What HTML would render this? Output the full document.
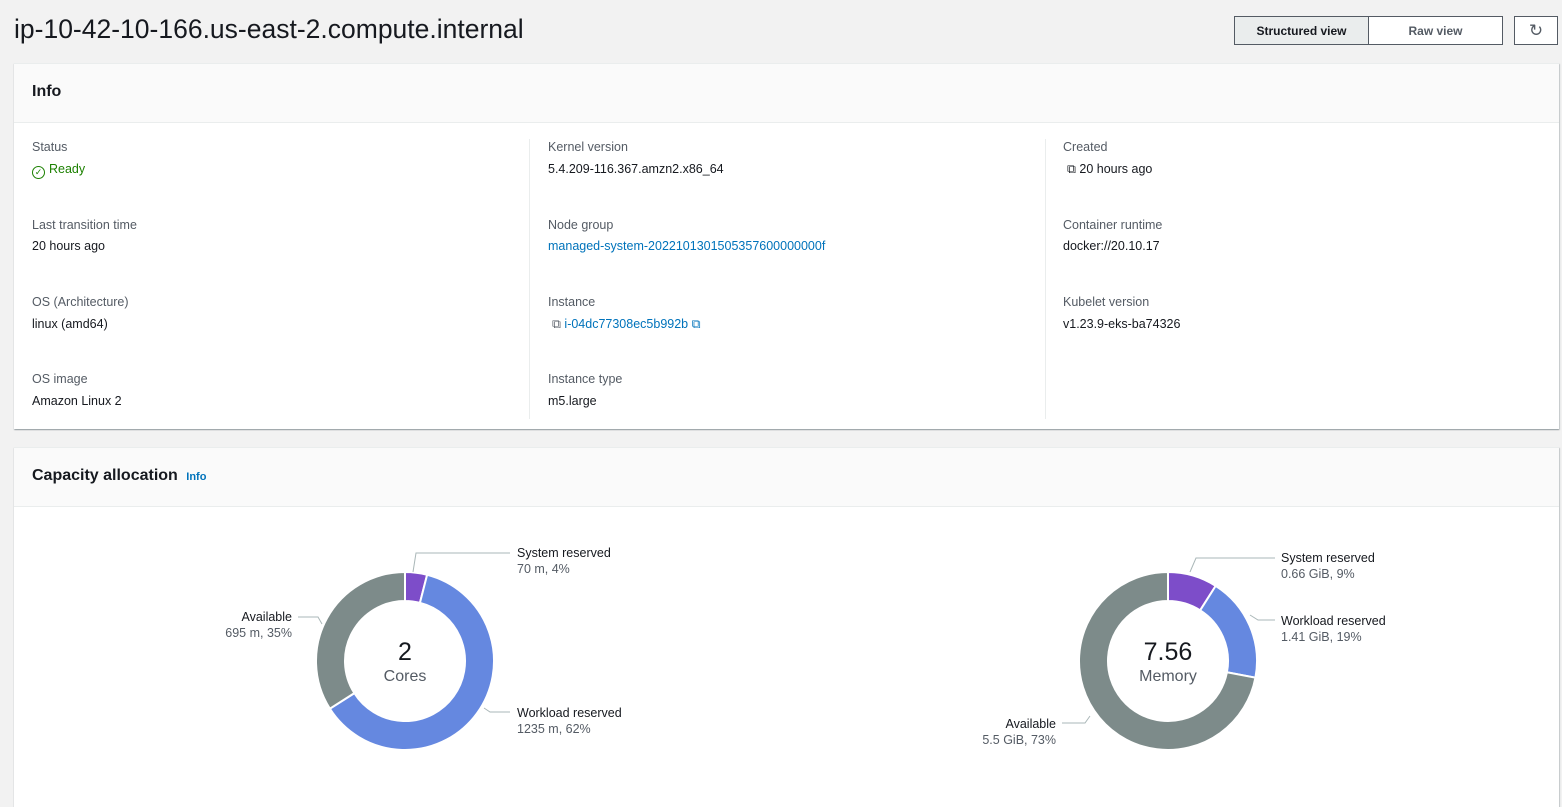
<!DOCTYPE html>
<html><head><meta charset="utf-8"><style>
*{box-sizing:border-box;margin:0;padding:0}
body{width:1562px;height:792px;overflow:hidden;background:#f2f2f2;font-family:"Liberation Sans",sans-serif;color:#16191f;position:relative}
.abs{position:absolute;white-space:nowrap}
h1{position:absolute;left:14px;top:14px;font-size:26.5px;font-weight:normal;color:#16191f}
.btns{position:absolute;left:1234px;top:16px;height:29px;display:flex}
.btns div{border:1px solid #545b64;font-size:12px;font-weight:bold;color:#545b64;display:flex;align-items:center;justify-content:center}
.card{position:absolute;left:14px;width:1545px;background:#fff;box-shadow:0 1px 1px rgba(0,28,36,.3),1px 1px 1px rgba(0,28,36,.15);border-top:1px solid #eaeded}
.hdr{background:#fafafa;border-bottom:1px solid #eaeded;height:59px;position:relative}
.hdr b{position:absolute;left:18px;top:19px;font-size:16px}
.lab{font-size:12.5px;color:#545b64}
.val{font-size:12.5px;color:#16191f}
.lnk{font-size:12.5px;color:#0073bb}
.sep{position:absolute;width:1px;background:#eaeded}
.dl{font-size:12.5px;color:#16191f;line-height:16px}
.dl span{color:#545b64}
</style></head><body>
<h1>ip-10-42-10-166.us-east-2.compute.internal</h1>
<div class="btns"><div style="width:135px;background:#eaeded;color:#16191f">Structured view</div><div style="width:134px;background:#fff;border-left:none">Raw view</div></div>
<div class="abs" style="left:1514px;top:16px;width:44px;height:29px;border:1px solid #545b64;background:#fff;font-size:17px;color:#545b64;text-align:center;line-height:27px">↻</div>

<div class="card" style="top:63px;height:366px">
<div class="hdr"><b>Info</b></div>
<div class="sep" style="left:515px;top:75px;height:280px"></div>
<div class="sep" style="left:1031px;top:75px;height:280px"></div>
</div>
<div class="abs lab" style="left:32px;top:140px">Status</div>
<div class="abs" style="left:32px;top:162px;font-size:12.5px;color:#1d8102"><span style="display:inline-block;width:13px;height:13px;border:1.5px solid #1d8102;border-radius:50%;font-size:9px;text-align:center;line-height:10px;vertical-align:-2px;margin-right:4px">✓</span>Ready</div>
<div class="abs lab" style="left:548px;top:140px">Kernel version</div>
<div class="abs val" style="left:548px;top:162px">5.4.209-116.367.amzn2.x86_64</div>
<div class="abs lab" style="left:1063px;top:140px">Created</div>
<div class="abs val" style="left:1067px;top:162px">⧉ 20 hours ago</div>
<div class="abs lab" style="left:32px;top:218px">Last transition time</div>
<div class="abs val" style="left:32px;top:239px">20 hours ago</div>
<div class="abs lab" style="left:548px;top:218px">Node group</div>
<div class="abs lnk" style="left:548px;top:239px">managed-system-2022101301505357600000000f</div>
<div class="abs lab" style="left:1063px;top:218px">Container runtime</div>
<div class="abs val" style="left:1063px;top:239px">docker://20.10.17</div>
<div class="abs lab" style="left:32px;top:295px">OS (Architecture)</div>
<div class="abs val" style="left:32px;top:317px">linux (amd64)</div>
<div class="abs lab" style="left:548px;top:295px">Instance</div>
<div class="abs lnk" style="left:552px;top:317px"><span style="color:#545b64">⧉</span> i-04dc77308ec5b992b ⧉</div>
<div class="abs lab" style="left:1063px;top:295px">Kubelet version</div>
<div class="abs val" style="left:1063px;top:317px">v1.23.9-eks-ba74326</div>
<div class="abs lab" style="left:32px;top:372px">OS image</div>
<div class="abs val" style="left:32px;top:394px">Amazon Linux 2</div>
<div class="abs lab" style="left:548px;top:372px">Instance type</div>
<div class="abs val" style="left:548px;top:394px">m5.large</div>

<div class="card" style="top:447px;height:360px">
<div class="hdr"><b>Capacity allocation <span style="font-size:11px;color:#0073bb;margin-left:4px">Info</span></b></div>
</div>

<svg class="abs" style="left:0;top:0" width="1562" height="792" id="s"></svg>
<div class="abs" style="left:365px;top:638px;width:80px;text-align:center;font-size:25px">2</div>
<div class="abs" style="left:365px;top:668px;width:80px;text-align:center;font-size:16px;color:#545b64">Cores</div>
<div class="abs" style="left:1118px;top:638px;width:100px;text-align:center;font-size:25px">7.56</div>
<div class="abs" style="left:1118px;top:668px;width:100px;text-align:center;font-size:16px;color:#545b64">Memory</div>

<div class="abs dl" style="left:517px;top:545px">System reserved<br><span>70 m, 4%</span></div>
<div class="abs dl" style="left:517px;top:705px">Workload reserved<br><span>1235 m, 62%</span></div>
<div class="abs dl" style="right:1270px;top:609px;text-align:right">Available<br><span>695 m, 35%</span></div>
<div class="abs dl" style="left:1281px;top:550px">System reserved<br><span>0.66 GiB, 9%</span></div>
<div class="abs dl" style="left:1281px;top:613px">Workload reserved<br><span>1.41 GiB, 19%</span></div>
<div class="abs dl" style="right:506px;top:716px;text-align:right">Available<br><span>5.5 GiB, 73%</span></div>

<script>
var s=document.getElementById('s'),h='';
function arc(cx,cy,a0,a1,c){var R=89,r=60;function p(rad,a){a=(a-90)*Math.PI/180;return (cx+rad*Math.cos(a)).toFixed(2)+' '+(cy+rad*Math.sin(a)).toFixed(2)}
var l=(a1-a0)>180?1:0;
h+='<path d="M'+p(R,a0)+' A'+R+' '+R+' 0 '+l+' 1 '+p(R,a1)+' L'+p(r,a1)+' A'+r+' '+r+' 0 '+l+' 0 '+p(r,a0)+'Z" fill="'+c+'" stroke="#fff" stroke-width="2"/>';}
var P='#7d4dc9',B='#6588e0',G='#7d8b8a';
arc(405,661,0,14.4,P);arc(405,661,14.4,237.6,B);arc(405,661,237.6,360,G);
arc(1168,661,0,32.4,P);arc(1168,661,32.4,100.8,B);arc(1168,661,100.8,360,G);
function L(pts){h+='<polyline points="'+pts+'" fill="none" stroke="#aab7b8" stroke-width="1"/>';}
L('413,572 416,553 510,553');L('484,708 490,712 510,712');L('298,617 318,617 322,624');
L('1190,572 1196,558 1275,558');L('1250,615 1258,620 1275,620');L('1062,723 1085,723 1090,716');
s.innerHTML=h;
</script>
</body></html>
